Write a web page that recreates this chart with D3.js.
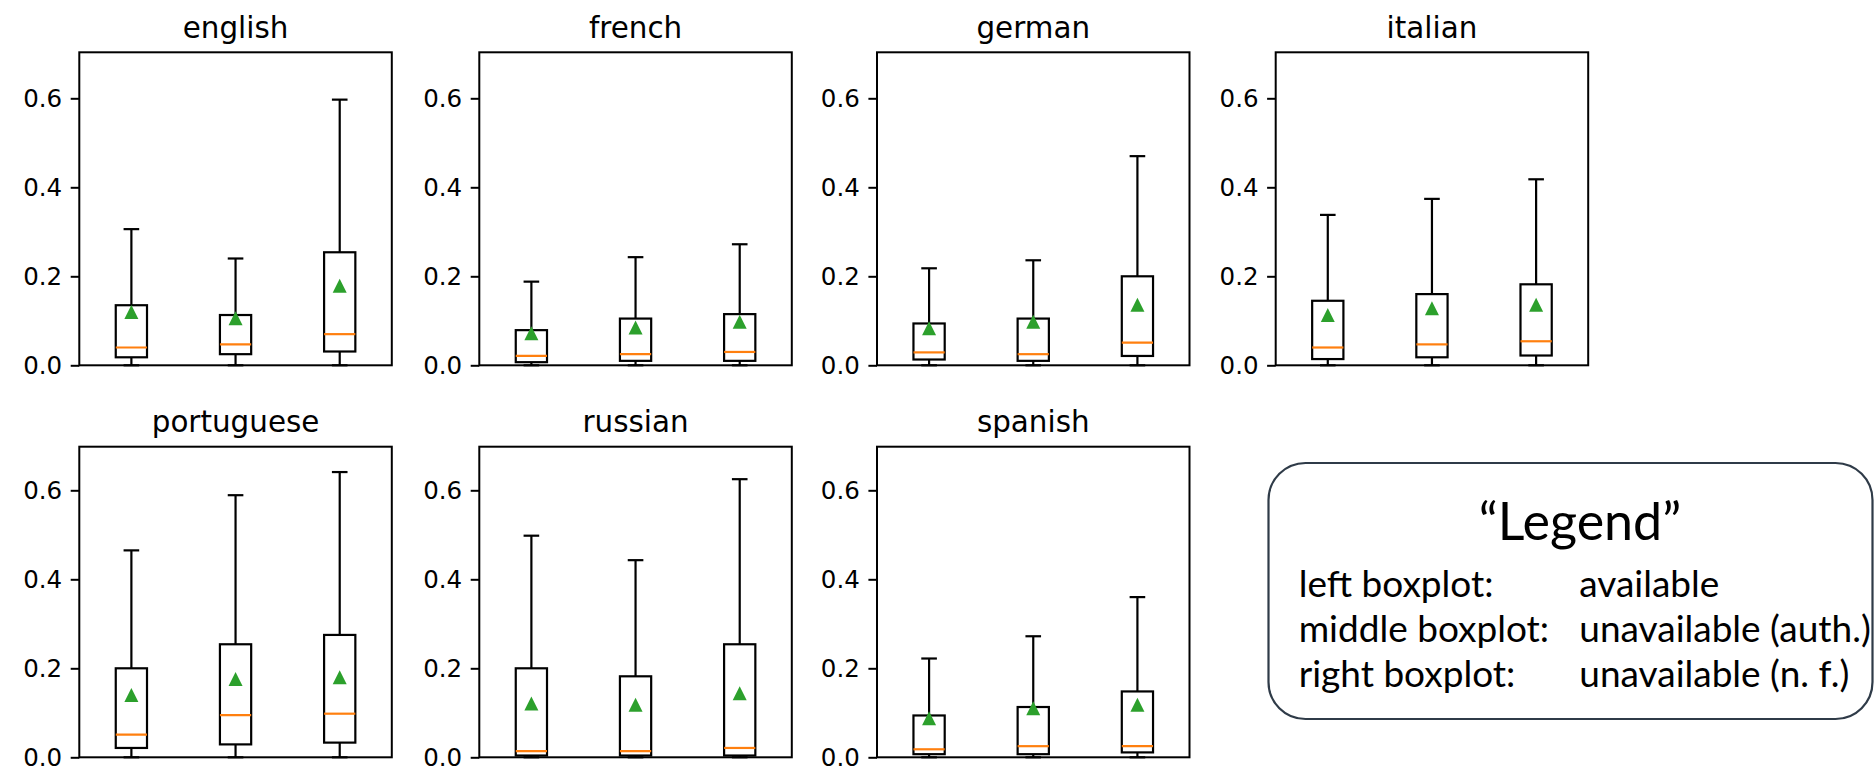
<!DOCTYPE html>
<html>
<head>
<meta charset="utf-8">
<script src="https://cdn.jsdelivr.net/npm/d3@7"></script>
<style>
  body { margin: 0; background: #fff; }
  svg { display: block; }
</style>
</head>
<body>
<div id="chart"></div>
<script>
// one entry per language, three boxes each: available / unavailable (auth.) / unavailable (n. f.)
var languages = ["english", "french", "german", "italian", "portuguese", "russian", "spanish"];
var positions = [1, 2, 3];

var whiskerLow = [
  [0.0, 0.0, 0.0], [0.0, 0.0, 0.0], [0.0, 0.0, 0.0], [0.0, 0.0, 0.0],
  [0.0, 0.0, 0.0], [0.0, 0.0, 0.0], [0.0, 0.0, 0.0]
];
var q1 = [
  [0.018, 0.025, 0.031], [0.007, 0.010, 0.010], [0.013, 0.010, 0.021], [0.014, 0.018, 0.022],
  [0.021, 0.029, 0.033], [0.004, 0.004, 0.004], [0.007, 0.007, 0.011]
];
var medians = [
  [0.040, 0.047, 0.070], [0.021, 0.025, 0.030], [0.029, 0.025, 0.051], [0.040, 0.047, 0.054],
  [0.051, 0.095, 0.098], [0.014, 0.014, 0.021], [0.018, 0.025, 0.025]
];
var q3 = [
  [0.135, 0.113, 0.254], [0.079, 0.105, 0.115], [0.094, 0.105, 0.200], [0.145, 0.160, 0.182],
  [0.200, 0.254, 0.275], [0.200, 0.182, 0.254], [0.094, 0.113, 0.148]
];
var whiskerHigh = [
  [0.306, 0.240, 0.597], [0.188, 0.243, 0.272], [0.218, 0.236, 0.470], [0.338, 0.374, 0.418],
  [0.465, 0.589, 0.641], [0.498, 0.443, 0.625], [0.222, 0.272, 0.360]
];
var means = [
  [0.120, 0.106, 0.179], [0.072, 0.085, 0.098], [0.083, 0.098, 0.136], [0.113, 0.128, 0.136],
  [0.140, 0.176, 0.180], [0.121, 0.118, 0.144], [0.088, 0.110, 0.118]
];
var yTicks = [0.0, 0.2, 0.4, 0.6];

var legendTitle = "\u201cLegend\u201d";
var legendKeys = ["left boxplot:", "middle boxplot:", "right boxplot:"];
var legendValues = ["available", "unavailable (auth.)", "unavailable (n. f.)"];

var W = 1875, H = 770;
var colLeft = [79.3, 479.3, 877, 1275.7];
var axW = 312.5;
var rowTop = [52.3, 446.7];
var rowBottom = [365.3, 757.3];
var pxPerUnit = 445;
var boxWidth = 0.3;

var svg = d3.select("#chart").append("svg")
    .attr("width", W)
    .attr("height", H);

languages.forEach((lang, i) => {
    var row = Math.floor(i / 4), col = i % 4;
    var left = colLeft[col], top = rowTop[row], bottom = rowBottom[row];

    var x = d3.scaleLinear().domain([0.5, 3.5]).range([0, axW]);
    var y = d3.scaleLinear().domain([0, 0.7]).range([bottom - top, bottom - top - 0.7 * pxPerUnit]);

    var g = svg.append("g").attr("transform", `translate(${left}, ${top})`);

    var yAxis = d3.axisLeft(y).tickValues(yTicks).tickFormat(d3.format(".1f"))
        .tickSize(8.6).tickPadding(8.6);
    var ax = g.append("g").attr("class", "y axis").call(yAxis);
    ax.select(".domain").remove();
    ax.selectAll("line").attr("stroke", "#000").attr("stroke-width", 2);
    ax.selectAll("text")
        .style("font-family", "DejaVu Sans")
        .style("font-size", "24.5px")
        .attr("fill", "#000");

    var boxes = positions.map((p, j) => ({
        p: p,
        lo: whiskerLow[i][j], q1: q1[i][j], med: medians[i][j],
        q3: q3[i][j], hi: whiskerHigh[i][j], mean: means[i][j]
    }));

    var half = x(1 + boxWidth / 2) - x(1);
    var capHalf = half / 2;

    var bg = g.selectAll(".box").data(boxes).enter().append("g").attr("class", "box");

    // whiskers
    bg.append("line")
        .attr("x1", d => x(d.p)).attr("x2", d => x(d.p))
        .attr("y1", d => y(d.q3)).attr("y2", d => y(d.hi))
        .attr("stroke", "#000").attr("stroke-width", 2.2);
    bg.append("line")
        .attr("x1", d => x(d.p)).attr("x2", d => x(d.p))
        .attr("y1", d => y(d.q1)).attr("y2", d => y(d.lo))
        .attr("stroke", "#000").attr("stroke-width", 2.2);
    // caps
    bg.append("line")
        .attr("x1", d => x(d.p) - capHalf).attr("x2", d => x(d.p) + capHalf)
        .attr("y1", d => y(d.hi)).attr("y2", d => y(d.hi))
        .attr("stroke", "#000").attr("stroke-width", 2.2);
    bg.append("line")
        .attr("x1", d => x(d.p) - capHalf).attr("x2", d => x(d.p) + capHalf)
        .attr("y1", d => y(d.lo)).attr("y2", d => y(d.lo))
        .attr("stroke", "#000").attr("stroke-width", 2.2);
    // box
    bg.append("rect")
        .attr("x", d => x(d.p) - half)
        .attr("width", half * 2)
        .attr("y", d => y(d.q3))
        .attr("height", d => y(d.q1) - y(d.q3))
        .attr("fill", "none").attr("stroke", "#000").attr("stroke-width", 2.2);
    // median
    bg.append("line")
        .attr("x1", d => x(d.p) - half).attr("x2", d => x(d.p) + half)
        .attr("y1", d => y(d.med)).attr("y2", d => y(d.med))
        .attr("stroke", "#ff7f0e").attr("stroke-width", 2.2);
    // mean marker
    var s = 7;
    bg.append("path")
        .attr("d", `M0,${-s}L${s},${s}L${-s},${s}Z`)
        .attr("transform", d => `translate(${x(d.p)}, ${y(d.mean)})`)
        .attr("fill", "#2ca02c");

    // frame
    g.append("rect")
        .attr("x", 0).attr("y", 0)
        .attr("width", axW).attr("height", bottom - top)
        .attr("fill", "none").attr("stroke", "#000").attr("stroke-width", 2);

    g.append("text")
        .attr("x", axW / 2).attr("y", -14.7)
        .attr("text-anchor", "middle")
        .style("font-family", "DejaVu Sans")
        .style("font-size", "29.4px")
        .attr("fill", "#000")
        .text(lang);
});

/* legend box */
var lg = svg.append("g").attr("class", "legend");
lg.append("rect")
    .attr("x", 1268.5).attr("y", 463)
    .attr("width", 604).attr("height", 256)
    .attr("rx", 37).attr("ry", 37)
    .attr("fill", "#fff").attr("stroke", "#2f3b48").attr("stroke-width", 2.2);

lg.append("text")
    .attr("x", 1580).attr("y", 540)
    .attr("text-anchor", "middle")
    .style("font-family", "Lato")
    .style("font-size", "52px")
    .attr("fill", "#000")
    .text(legendTitle);

lg.selectAll(".lk").data(legendKeys).enter().append("text")
    .attr("class", "lk")
    .attr("x", 1298.7).attr("y", (d, i) => 596.7 + 45 * i)
    .style("font-family", "Lato")
    .style("font-size", "37px")
    .attr("fill", "#000")
    .text(d => d);

lg.selectAll(".lv").data(legendValues).enter().append("text")
    .attr("class", "lv")
    .attr("x", 1579.3).attr("y", (d, i) => 596.7 + 45 * i)
    .style("font-family", "Lato")
    .style("font-size", "37px")
    .attr("fill", "#000")
    .text(d => d);
</script>
</body>
</html>
